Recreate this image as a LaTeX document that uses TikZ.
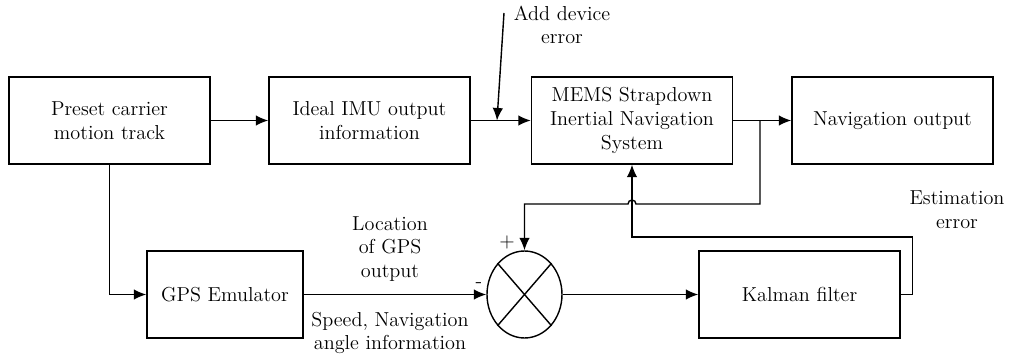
\documentclass[tikz,border=0pt]{standalone}
\usetikzlibrary{arrows.meta,shapes.geometric}
\tikzset{
  blk/.style={draw, line width=0.8pt, minimum width=4.02cm, minimum height=1.74cm, align=center, inner sep=2pt},
  lbl/.style={align=center, inner sep=0pt},
}
\begin{document}
\begin{tikzpicture}[x=0.02cm, y=-0.02cm, >={Latex[length=2.5mm,width=2.1mm]}, line width=0.8pt,
  font=\fontsize{11.5}{13.5}\selectfont]
\useasboundingbox (0,0) rectangle (1009,358);
% top row
\node[blk] (pre)  at (109.5,120.5) {Preset carrier\\motion track};
\node[blk] (imu)  at (369.5,120.5) {Ideal IMU output\\information};
\node[blk] (mems) at (632,120.5)   {MEMS Strapdown\\Inertial Navigation\\System};
\node[blk] (nav)  at (892.5,120.5) {Navigation output};
% bottom row
\node[blk, minimum width=3.12cm] (gps) at (225,294.5) {GPS Emulator};
\node[draw, ellipse, minimum width=1.5cm, minimum height=1.74cm, inner sep=0pt] (sum) at (524.5,294.5) {};
\draw (sum.north west) -- (sum.south east);
\draw (sum.north east) -- (sum.south west);
\node[blk] (kal) at (799.5,294.5) {Kalman filter};

% labels
\node[lbl] (adderr) at (562,25) {Add device\\error};
\node[lbl] (loc) at (390,249) {Location\\of GPS\\output};
\node[lbl] (spd) at (390,333) {Speed, Navigation\\angle information};
\node[lbl] (esterr) at (957,210) {Estimation\\error};
\node[lbl] (plus) at (507,242) {+};
\node[lbl] (minus) at (479,285) {-};

% connectors
\coordinate (errin) at (504,13);
\coordinate (errat) at (497,120.5);
\coordinate (br) at (760,120.5);
\draw[->] (pre) -- (imu);
\draw[->] (imu) -- (mems);
\draw[->] (mems) -- (nav);
\draw[->] (errin) -- (errat);
\draw[->] (pre.south) |- (gps.west);
\draw[->] (gps) -- (sum);
\draw[->] (sum) -- (kal);
\draw[->] (br) -- (760,204) -- (636,204) arc (0:-180:4) -- (sum.north |- 0,204) -- (sum.north);
\draw[->] (kal.east) -- ++(12,0) |- (mems.south |- 0,237) -- (mems.south);
\end{tikzpicture}
\end{document}
